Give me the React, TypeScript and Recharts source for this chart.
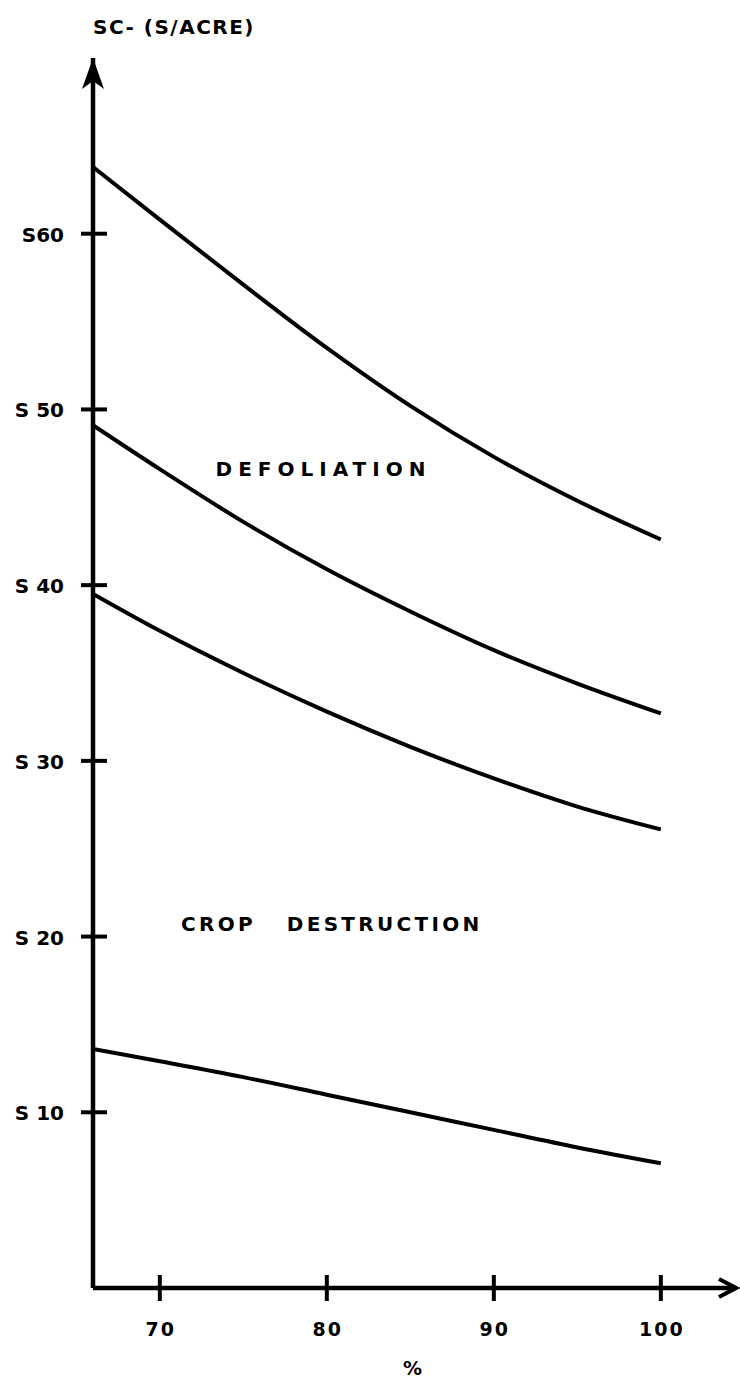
import React from 'react';
import { LineChart, Line, XAxis, YAxis, ReferenceDot } from 'recharts';

// % of crop (x) vs cost per acre (y)
const pct = [66, 70, 75, 80, 85, 90, 95, 100];
const defoliationUpper = [63.8, 60.8, 57.1, 53.5, 50.2, 47.3, 44.8, 42.6];
const defoliationLower = [49.1, 46.6, 43.6, 40.9, 38.5, 36.3, 34.4, 32.7];
const cropUpper = [39.5, 37.4, 35.0, 32.8, 30.8, 29.0, 27.4, 26.1];
const cropLower = [13.6, 12.9, 12.0, 11.0, 10.0, 9.0, 8.0, 7.1];

const xTicks = [70, 80, 90, 100];
const yTicks = [10, 20, 30, 40, 50, 60];
const yTickLabels = ['S 10', 'S 20', 'S 30', 'S 40', 'S 50', 'S60'];

const X_MIN = 66;
const X_MAX = 104.5;
const Y_MIN = 0;
const Y_MAX = 70;

const data = pct.map((p, i) => ({
  x: p,
  a: defoliationUpper[i],
  b: defoliationLower[i],
  c: cropUpper[i],
  d: cropLower[i],
}));

const W = 740;
const H = 1382;
const AXIS_X = 93;
const AXIS_Y = 1288;
const FONT = '"DejaVu Sans", sans-serif';

const YTick = ({ y, payload }: any) => {
  const idx = yTicks.indexOf(payload.value);
  return (
    <g>
      <line x1={AXIS_X - 12} x2={AXIS_X + 14} y1={y} y2={y} stroke="#000" strokeWidth={4} />
      <text
        x={64}
        y={y + 1}
        textAnchor="end"
        dominantBaseline="central"
        fontFamily={FONT}
        fontWeight="bold"
        fontSize={20}
        fill="#000"
        style={{ whiteSpace: 'pre' }}
      >
        {yTickLabels[idx]}
      </text>
    </g>
  );
};

const XTick = ({ x, payload }: any) => (
  <g>
    <line x1={x} x2={x} y1={AXIS_Y - 13} y2={AXIS_Y + 13} stroke="#000" strokeWidth={4} />
    <text
      x={x + 1}
      y={AXIS_Y + 41}
      textAnchor="middle"
      dominantBaseline="central"
      fontFamily={FONT}
      fontWeight="bold"
      fontSize={19}
      letterSpacing={2}
      fill="#000"
    >
      {payload.value}
    </text>
  </g>
);

const UpArrow = ({ cx, cy }: any) => (
  <path d={`M${cx},${cy} L${cx - 11},${cy + 31} L${cx},${cy + 23} L${cx + 11},${cy + 31} Z`} fill="#000" />
);

const RightArrow = ({ cx, cy }: any) => (
  <path
    d={`M${cx - 17},${cy - 9} L${cx},${cy} L${cx - 17},${cy + 9}`}
    fill="none"
    stroke="#000"
    strokeWidth={4}
  />
);

const regionText = (value: string, spacing: number) => ({ cx, cy }: any) => (
  <text
    x={cx}
    y={cy}
    textAnchor="middle"
    dominantBaseline="central"
    fontFamily={FONT}
    fontWeight="bold"
    fontSize={20}
    letterSpacing={spacing}
    fill="#000"
    style={{ whiteSpace: 'pre' }}
  >
    {value}
  </text>
);

export default function App() {
  return (
    <div style={{ position: 'absolute', left: 0, top: 0, width: W, height: H, background: '#fff' }}>
      <div
        style={{
          position: 'absolute',
          left: 93,
          top: 15,
          fontFamily: FONT,
          fontWeight: 'bold',
          fontSize: 20,
          letterSpacing: 1.5,
          color: '#000',
          whiteSpace: 'pre',
        }}
      >
        {'SC- (S/ACRE)'}
      </div>
      <LineChart width={W} height={H} data={data} margin={{ top: 58, right: 4, bottom: 0, left: 0 }}>
        <XAxis
          type="number"
          dataKey="x"
          domain={[X_MIN, X_MAX]}
          ticks={xTicks}
          allowDataOverflow
          height={H - AXIS_Y}
          axisLine={{ stroke: '#000', strokeWidth: 4.5 }}
          tickLine={false}
          tick={<XTick />}
        />
        <YAxis
          type="number"
          domain={[Y_MIN, Y_MAX]}
          ticks={yTicks}
          allowDataOverflow
          width={AXIS_X}
          axisLine={{ stroke: '#000', strokeWidth: 4.5 }}
          tickLine={false}
          tick={<YTick />}
        />
        <Line type="monotone" dataKey="a" stroke="#000" strokeWidth={4} dot={false} isAnimationActive={false} />
        <Line type="monotone" dataKey="b" stroke="#000" strokeWidth={4} dot={false} isAnimationActive={false} />
        <Line type="monotone" dataKey="c" stroke="#000" strokeWidth={4} dot={false} isAnimationActive={false} />
        <Line type="monotone" dataKey="d" stroke="#000" strokeWidth={4} dot={false} isAnimationActive={false} />
        <ReferenceDot x={79.8} y={46.6} r={0} shape={regionText('DEFOLIATION', 6)} />
        <ReferenceDot x={80.3} y={20.7} r={0} shape={regionText('CROP   DESTRUCTION', 3.3)} />
        <ReferenceDot x={X_MIN} y={Y_MAX} r={0} shape={UpArrow} />
        <ReferenceDot x={X_MAX} y={Y_MIN} r={0} shape={RightArrow} />
      </LineChart>
      <div
        style={{
          position: 'absolute',
          left: 403,
          top: 1357,
          fontFamily: FONT,
          fontWeight: 'bold',
          fontSize: 19,
          color: '#000',
        }}
      >
        %
      </div>
    </div>
  );
}
